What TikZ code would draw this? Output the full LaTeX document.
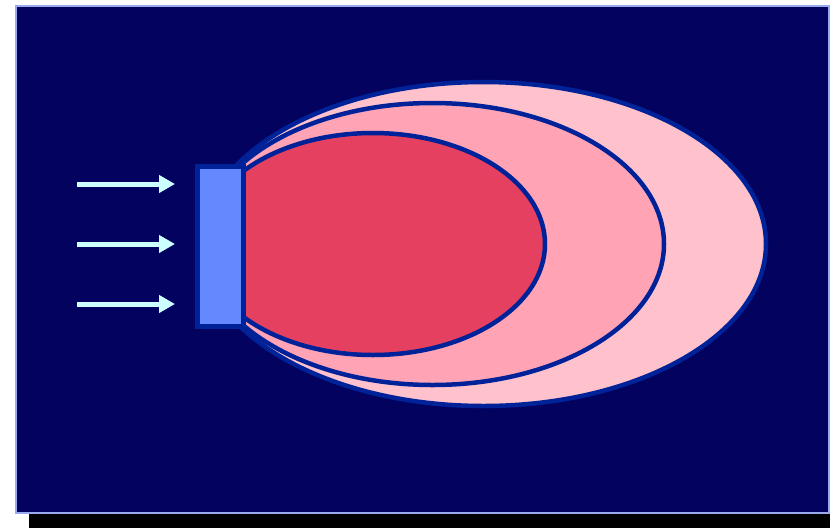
\documentclass[tikz,border=0pt]{standalone}
\usetikzlibrary{arrows.meta}
\definecolor{navy}{HTML}{03035F}
\definecolor{frameblue}{HTML}{99AAEE}
\definecolor{edgeblue}{HTML}{002299}
\definecolor{pinkA}{HTML}{FFC2CD}
\definecolor{pinkB}{HTML}{FFA3B5}
\definecolor{pinkC}{HTML}{E5405F}
\definecolor{plate}{HTML}{6688FF}
\definecolor{arrowcyan}{HTML}{CCFFFF}
\tikzset{
  lobe/.style={draw=edgeblue, line width=4.5pt},
  flow/.style={draw=arrowcyan, line width=5pt, -{Triangle[length=16pt,width=17pt]}},
}
\begin{document}
\begin{tikzpicture}[x=1pt,y=-1pt]
\useasboundingbox (0,0) rectangle (830,528);
\fill[black] (29,512) rectangle (830,528);
\draw[fill=navy, draw=frameblue, line width=2.5pt] (16,6) rectangle (829,513);
\draw[lobe, fill=pinkA] (483.5,244) ellipse [x radius=282.5, y radius=162];
\draw[lobe, fill=pinkB] (432.5,244) ellipse [x radius=231.5, y radius=141];
\draw[lobe, fill=pinkC] (373,244) ellipse [x radius=172, y radius=111];
\node[draw=edgeblue, fill=plate, line width=4.5pt, minimum width=46pt, minimum height=160pt, inner sep=0pt, anchor=north west] (plate) at (195,164) {};
\coordinate (a1s) at (77,184); \coordinate (a1e) at (175,184);
\coordinate (a2s) at (77,244); \coordinate (a2e) at (175,244);
\coordinate (a3s) at (77,304); \coordinate (a3e) at (175,304);
\draw[flow] (a1s) -- (a1e);
\draw[flow] (a2s) -- (a2e);
\draw[flow] (a3s) -- (a3e);
\end{tikzpicture}
\end{document}
